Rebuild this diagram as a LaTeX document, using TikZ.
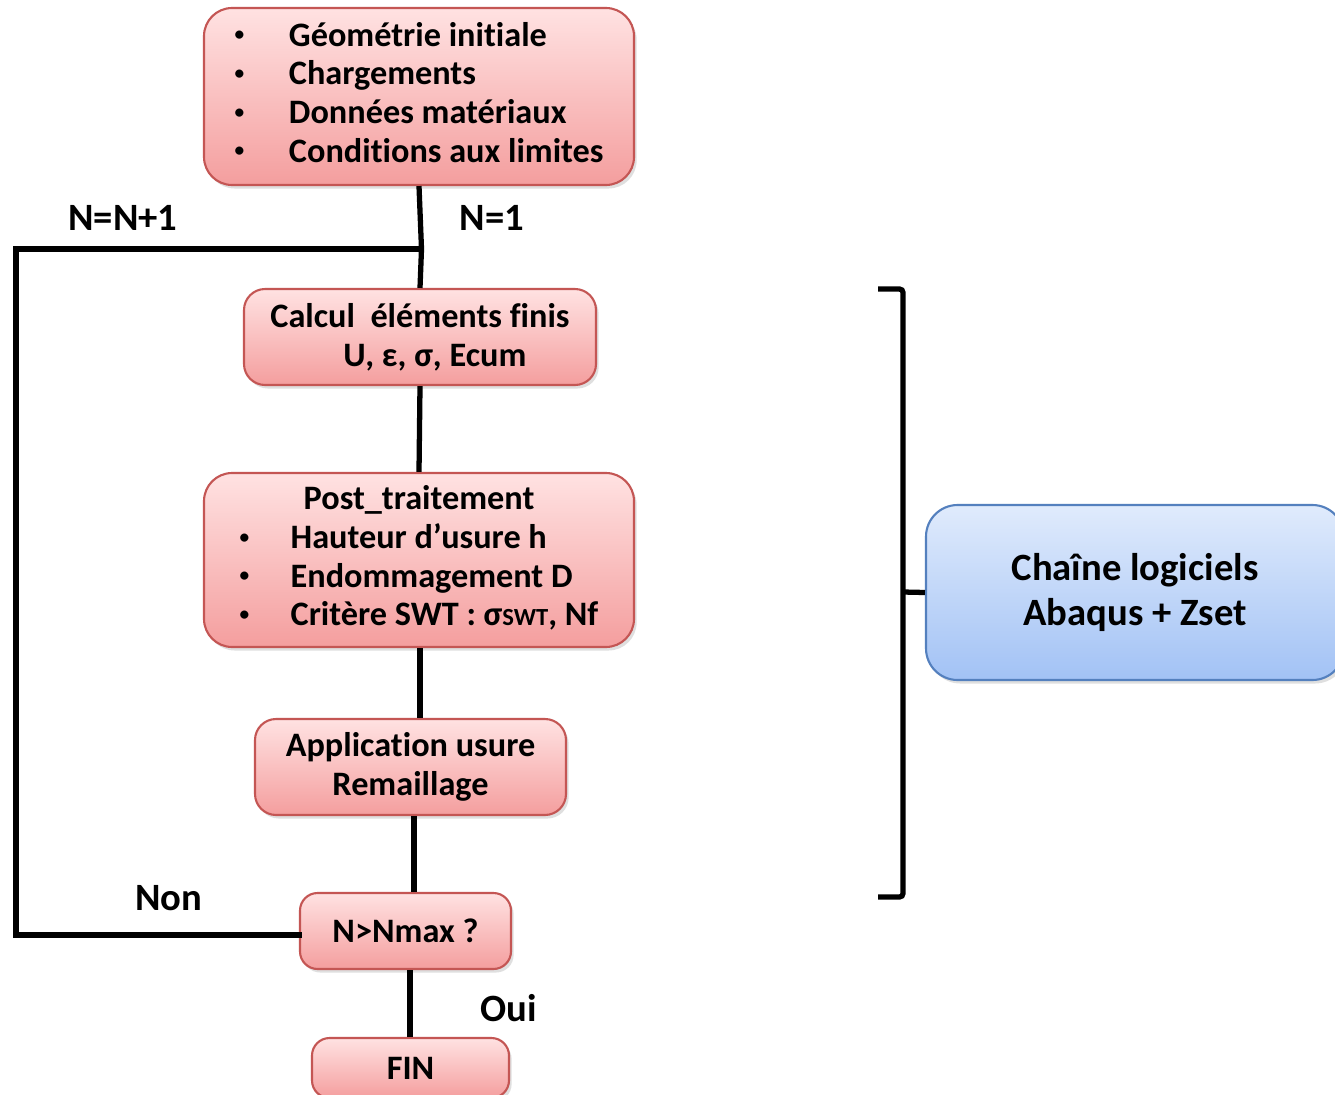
\documentclass[tikz,border=0pt]{standalone}
\usepackage{fontspec}
\setmainfont{Carlito}[Ligatures=CommonOff]
\usetikzlibrary{shadows}
\newcommand{\pu}{0.02cm}
\newcommand{\bul}{\raisebox{3pt}{\fontsize{11}{11}\selectfont •}}
\definecolor{redtop}{RGB}{255,226,226}
\definecolor{redbot}{RGB}{244,158,158}
\definecolor{redline}{RGB}{196,86,84}
\definecolor{bluetop}{RGB}{224,235,252}
\definecolor{bluebot}{RGB}{162,194,245}
\definecolor{blueline}{RGB}{84,128,190}
\tikzset{
  redbox/.style={draw=redline, line width=1.2pt, top color=redtop, bottom color=redbot,
    rounded corners=#1, inner sep=0pt,
    drop shadow={opacity=0.25, shadow xshift=1.5pt, shadow yshift=-2pt},
    font=\bfseries\fontsize{19.5}{22}\selectfont, align=center},
  redbox/.default=10pt,
  bluebox/.style={draw=blueline, line width=1.2pt, top color=bluetop, bottom color=bluebot,
    rounded corners=18pt, inner sep=0pt,
    drop shadow={opacity=0.25, shadow xshift=1.5pt, shadow yshift=-2pt},
    font=\bfseries\fontsize{22}{25.5}\selectfont, align=center},
  flow/.style={line width=3pt, black},
  brk/.style={line width=3pt, black, rounded corners=2pt},
  lbl/.style={font=\bfseries\fontsize{22}{24}\selectfont, inner sep=0pt}
}
\begin{document}
\begin{tikzpicture}[x=0.02cm, y=-0.02cm]
\clip (0,0) rectangle (1335,1095);
\fill[white] (0,0) rectangle (1335,1095);

\node[redbox=16pt, minimum width=430*\pu, minimum height=177*\pu] (top) at (419,96.5)
  {\begin{tabular}{@{}p{31pt}@{}l@{}}
   \bul & Géométrie initiale\\
   \bul & Chargements\\
   \bul & Données matériaux\\
   \bul & Conditions aux limites
   \end{tabular}};

\node[redbox=12pt, minimum width=352*\pu, minimum height=96*\pu] (calc) at (420,337)
  {Calcul\ \ éléments finis\\ \hspace*{17pt}U, ε, σ, Ecum};

\node[redbox=16pt, minimum width=430*\pu, minimum height=174*\pu] (post) at (419,560)
  {\begin{tabular}{@{}p{29pt}@{}l@{}}
   \multicolumn{2}{c}{Post\_traitement}\\
   \bul & Hauteur d’usure h\\
   \bul & Endommagement D\\
   \bul & Critère SWT : σ{\fontsize{14}{16}\selectfont SWT}, Nf
   \end{tabular}};

\node[redbox=12pt, minimum width=311*\pu, minimum height=96*\pu] (app) at (410.5,767)
  {Application usure\\ Remaillage};

\node[redbox=10pt, minimum width=211*\pu, minimum height=76*\pu] (test) at (405.5,931)
  {N>Nmax ?};

\node[redbox=10pt, minimum width=197*\pu, minimum height=60*\pu] (fin) at (410.5,1068)
  {FIN};

\node[bluebox, minimum width=418*\pu, minimum height=175*\pu] (chain) at (1135,592.5)
  {Chaîne logiciels\\ Abaqus + Zset};

% connectors
\coordinate (join) at (421.5,249);
\coordinate (loopT) at (16,249);
\coordinate (loopB) at (16,935);
\draw[flow] (top.south) -- (join) -- (calc.north);
\draw[flow] (calc.south) -- (post.north);
\draw[flow] (post.south -| 420,0) -- (app.north -| 420,0);
\draw[flow] (app.south -| 414,0) -- (test.north -| 414,0);
\draw[flow] (test.south -| 410,0) -- (fin.north -| 410,0);
\draw[flow, line cap=rect] (test.west |- loopB) -- (loopB) -- (loopT) -- (join);

% bracket
\coordinate (b1) at (878,289);
\coordinate (b2) at (903,289);
\coordinate (bm) at (903,592);
\coordinate (b3) at (903,897);
\coordinate (b4) at (878,897);
\draw[brk] (b1) -- (b2) -- (b3) -- (b4);
\draw[brk] (bm) -- (chain.west);

% labels
\node[lbl] (l1) at (123,218) {N=N+1};
\node[lbl] (l2) at (492,218) {N=1};
\node[lbl] (l3) at (169,898) {Non};
\node[lbl] (l4) at (509,1008) {Oui};
\end{tikzpicture}
\end{document}
